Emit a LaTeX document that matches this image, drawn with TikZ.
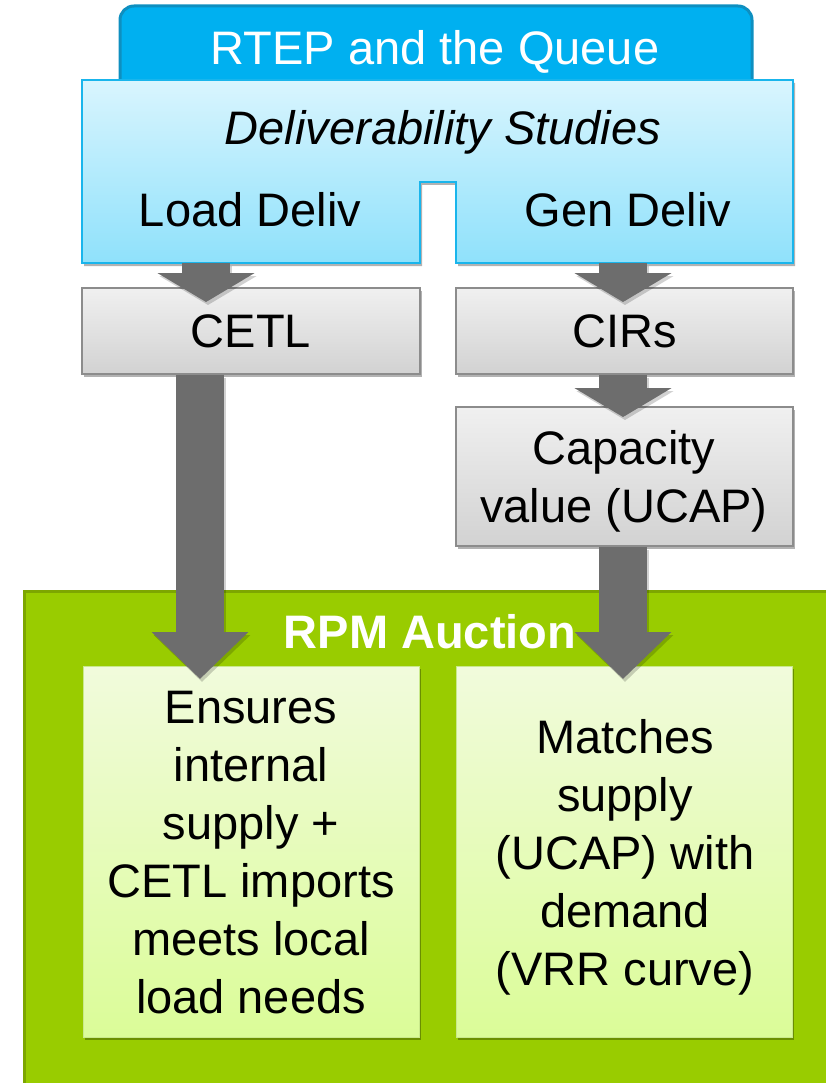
\documentclass[tikz,border=0pt]{standalone}
\usepackage{fontspec}
\setmainfont{Liberation Sans}
\usetikzlibrary{arrows.meta,shadows}
\definecolor{rtepblue}{HTML}{00B0F0}
\definecolor{rtepedge}{HTML}{0E8FC0}
\definecolor{lbtop}{HTML}{D9F5FE}
\definecolor{lbbot}{HTML}{8FE1FB}
\definecolor{lbedge}{HTML}{19B5EC}
\definecolor{gtop}{HTML}{F0F0F0}
\definecolor{gbot}{HTML}{D2D2D2}
\definecolor{gedge}{HTML}{8C8C8C}
\definecolor{arrgray}{HTML}{6D6D6D}
\definecolor{rpmgreen}{HTML}{99CC00}
\definecolor{rpmedge}{HTML}{7DA600}
\definecolor{intop}{HTML}{F1FBDC}
\definecolor{inbot}{HTML}{DBFC98}
\definecolor{inedge}{HTML}{C9E98C}
\tikzset{
  big/.style={font=\fontsize{47}{58}\selectfont, inner sep=0pt},
  shad/.style={drop shadow={shadow xshift=2pt, shadow yshift=-3pt, opacity=0.3, fill=black}},
  graybox/.style={draw=gedge, line width=1.2pt, top color=gtop, bottom color=gbot, shad, inner sep=0pt},
  innerbox/.style={draw=inedge, line width=1pt, top color=intop, bottom color=inbot, shad, inner sep=0pt},
  smallarr/.style={draw=arrgray, line width=48pt, -{Triangle[length=29pt,width=96pt]}},
  bigarr/.style={draw=arrgray, line width=48pt, -{Triangle[length=47pt,width=94pt]}},
  arrshadow/.style={draw=black, opacity=0.18, transform canvas={shift={(2pt,-3pt)}}}
}
\begin{document}
\begin{tikzpicture}[x=1pt,y=-1pt]
\useasboundingbox (0,0) rectangle (826,1083);
% top blue tab
\draw[rounded corners=14pt, fill=rtepblue, draw=rtepedge, line width=3pt] (120,6) rectangle (752,110);
\node[big, text=white, anchor=base] (rtep) at (435,65) {RTEP and the Queue};
% light blue deliverability box
\path[draw=lbedge, line width=1.5pt, top color=lbtop, bottom color=lbbot, shad]
  (82,80) -- (793,80) -- (793,263) -- (456,263) -- (456,182) -- (420,182) -- (420,263) -- (82,263) -- cycle;
\node[big, anchor=base] (deliv) at (443,145) {\itshape Deliverability Studies};
\node[big, anchor=base] (load) at (250,227) {Load Deliv};
\node[big, anchor=base] (gen) at (628,227) {Gen Deliv};
\coordinate (loadbot) at (206,263);
\coordinate (genbot) at (623,263);
% gray boxes
\node[graybox, big, minimum width=338pt, minimum height=86pt] (cetl) at (251,331) {CETL};
\node[graybox, big, minimum width=337pt, minimum height=86pt] (cirs) at (624.5,331) {CIRs};
\node[graybox, minimum width=337pt, minimum height=139pt] (cap) at (624.5,476.5) {};
\node[big, align=center, anchor=north] (captext) at (624,424) {\rule{0pt}{40pt}Capacity\\value (UCAP)};
% RPM auction area
\draw[fill=rpmgreen, draw=rpmedge, line width=3pt] (24,591) rectangle (850,1110);
\node[big, text=white, anchor=base, font=\fontsize{47}{58}\selectfont\bfseries] (rpm) at (430,648) {RPM Auction};
\node[innerbox, minimum width=336pt, minimum height=371pt] (lbox) at (251,851.5) {};
\node[innerbox, minimum width=336pt, minimum height=371pt] (rbox) at (624,851.5) {};
\node[big, align=center, anchor=north] (ltext) at (251,683)
  {\rule{0pt}{40pt}Ensures\\internal\\supply +\\CETL imports\\meets local\\load needs};
\node[big, align=center, anchor=north] (rtext) at (625,713)
  {\rule{0pt}{40pt}Matches\\supply\\(UCAP) with\\demand\\(VRR curve)};
% arrow tips
\coordinate (t1) at (206,302);
\coordinate (t2) at (623,302);
\coordinate (t3) at (623,417);
\coordinate (t4) at (200,679);
\coordinate (t5) at (623,679);
% arrow shadows
\draw[smallarr, arrshadow] (loadbot) -- (t1);
\draw[smallarr, arrshadow] (genbot) -- (t2);
\draw[smallarr, arrshadow] (cirs.south -| t3) -- (t3);
\draw[bigarr, arrshadow] (cetl.south -| t4) -- (t4);
\draw[bigarr, arrshadow] (cap.south -| t5) -- (t5);
% arrows
\draw[smallarr] (loadbot) -- (t1);
\draw[smallarr] (genbot) -- (t2);
\draw[smallarr] (cirs.south -| t3) -- (t3);
\draw[bigarr] (cetl.south -| t4) -- (t4);
\draw[bigarr] (cap.south -| t5) -- (t5);
\end{tikzpicture}
\end{document}
